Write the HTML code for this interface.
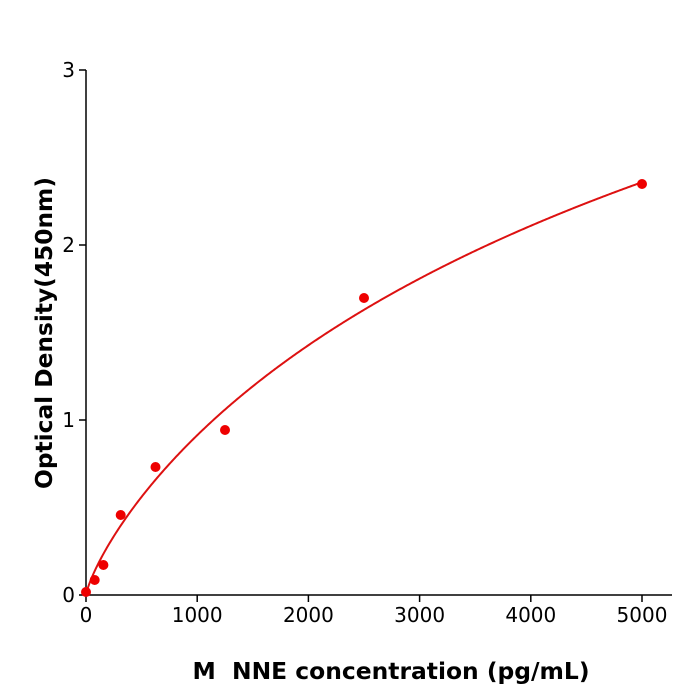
<!DOCTYPE html>
<html><head><meta charset="utf-8"><style>
body{margin:0;background:#fff}
svg{display:block;font-family:"DejaVu Sans","Liberation Sans",sans-serif}
</style></head><body>
<svg id="s" width="700" height="700" viewBox="0 0 700 700">
<rect width="700" height="700" fill="#fff"/>
<g stroke="#000" stroke-width="1.5" fill="none">
<line x1="86" y1="70" x2="86" y2="596"/>
<line x1="85" y1="595" x2="672" y2="595"/>
<line x1="79" y1="595" x2="86" y2="595"/>
<line x1="79" y1="420" x2="86" y2="420"/>
<line x1="79" y1="245" x2="86" y2="245"/>
<line x1="79" y1="70" x2="86" y2="70"/>
<line x1="86" y1="595" x2="86" y2="602"/>
<line x1="197.2" y1="595" x2="197.2" y2="602"/>
<line x1="308.4" y1="595" x2="308.4" y2="602"/>
<line x1="419.6" y1="595" x2="419.6" y2="602"/>
<line x1="530.8" y1="595" x2="530.8" y2="602"/>
<line x1="642" y1="595" x2="642" y2="602"/>
</g>
<g font-size="20" fill="#000">
<g text-anchor="end">
<text x="75" y="602">0</text><text x="75" y="427">1</text><text x="75" y="252">2</text><text x="75" y="77">3</text>
</g>
<g text-anchor="middle">
<text x="86" y="622">0</text><text x="197.2" y="622">1000</text><text x="308.4" y="622">2000</text>
<text x="419.6" y="622">3000</text><text x="530.8" y="622">4000</text><text x="642" y="622">5000</text>
</g>
</g>
<text x="391" y="679" font-size="23.4" font-weight="bold" text-anchor="middle" xml:space="preserve">M  NNE concentration (pg/mL)</text>
<text transform="translate(52,333) rotate(-90)" font-size="23.3" font-weight="bold" text-anchor="middle">Optical Density(450nm)</text>
<path id="c" fill="none" stroke="#d11" stroke-width="2"/>
<g fill="#e00">
<circle cx="86" cy="592" r="5"/>
<circle cx="94.7" cy="580" r="5"/>
<circle cx="103.4" cy="565" r="5"/>
<circle cx="120.7" cy="515" r="5"/>
<circle cx="155.5" cy="467" r="5"/>
<circle cx="225" cy="430" r="5"/>
<circle cx="364" cy="298" r="5"/>
<circle cx="642" cy="184" r="5"/>
</g>
</svg>
<script>
var d="";
for(var i=0;i<=500;i++){var x=i*10;var u=Math.pow(x,0.8);var y=5.95*u/(1386+u);
d+=(i?"L":"M")+(86+x*0.1112).toFixed(2)+","+(595-y*175).toFixed(2);}
document.getElementById("c").setAttribute("d",d);
</script>
</body></html>
